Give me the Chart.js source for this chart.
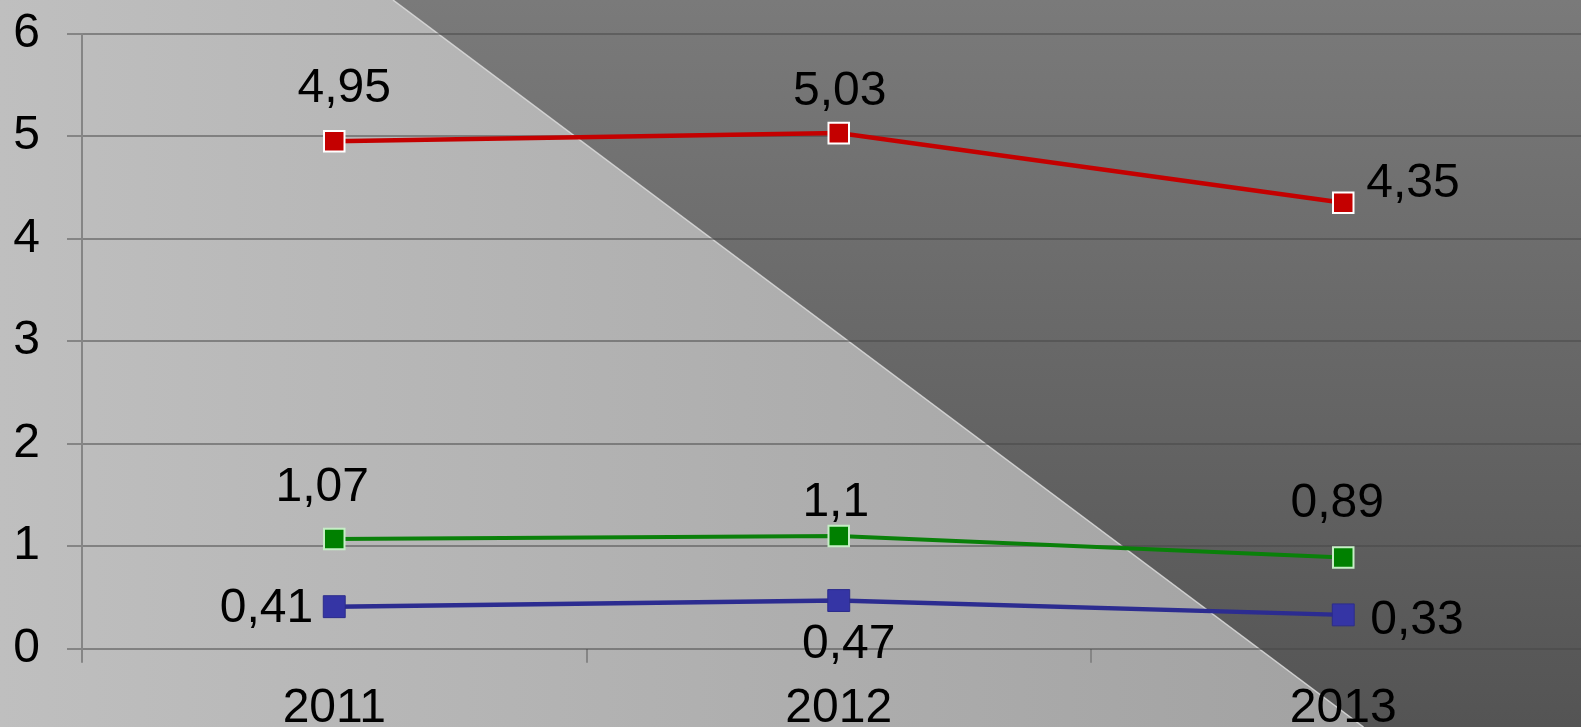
<!DOCTYPE html>
<html>
<head>
<meta charset="utf-8">
<style>
  html, body { margin: 0; padding: 0; overflow: hidden; background: #777; }
  #wrap { width: 1612px; height: 727px; }
  #c { width: 1612px; height: 727px; display: block; }
</style>
<script src="https://cdn.jsdelivr.net/npm/chart.js@4/dist/chart.umd.min.js"></script>
</head>
<body>
<div id="wrap"><canvas id="c" width="1612" height="727"></canvas></div>
<script>
// Years on the category axis
const years = ['2011', '2012', '2013'];

// Series values
const redSeries = [4.95, 5.03, 4.35];
const greenSeries = [1.07, 1.1, 0.89];
const blueSeries = [0.41, 0.47, 0.33];

// Value axis ticks
const yTicks = [0, 1, 2, 3, 4, 5, 6];

const FONT = '"Liberation Sans", Arial, sans-serif';
const FONT_SIZE = 48;

// Two-tone backdrop split by a diagonal
const backdrop = {
  id: 'backdrop',
  beforeDraw(chart) {
    const { ctx, width, height } = chart;
    ctx.save();
    const light = ctx.createLinearGradient(0, 0, 1300, 0);
    light.addColorStop(0, '#bfbfbf');
    light.addColorStop(1, '#a3a3a3');
    ctx.fillStyle = light;
    ctx.fillRect(0, 0, width, height);

    const x0 = 393, x1 = 393 + height * 1.335;
    const dark = ctx.createLinearGradient(0, 0, 0, height);
    dark.addColorStop(0, '#7a7a7a');
    dark.addColorStop(1, '#545454');
    ctx.fillStyle = dark;
    ctx.beginPath();
    ctx.moveTo(x0, 0);
    ctx.lineTo(width, 0);
    ctx.lineTo(width, height);
    ctx.lineTo(x1, height);
    ctx.closePath();
    ctx.fill();

    ctx.strokeStyle = 'rgba(225,225,225,0.8)';
    ctx.lineWidth = 1.5;
    ctx.beginPath();
    ctx.moveTo(x0, 0);
    ctx.lineTo(x1, height);
    ctx.stroke();
    ctx.restore();
  }
};

// Value labels next to each point, formatted with a decimal comma
const valueLabels = {
  id: 'valueLabels',
  afterDatasetsDraw(chart) {
    const { ctx } = chart;
    ctx.save();
    ctx.font = FONT_SIZE + 'px ' + FONT;
    ctx.fillStyle = '#000';
    chart.data.datasets.forEach((ds, i) => {
      const meta = chart.getDatasetMeta(i);
      meta.data.forEach((pt, j) => {
        const text = String(ds.data[j]).replace('.', ',');
        const w = ctx.measureText(text).width;
        const spot = ds.labelSpots[j];
        let cx = pt.x + spot[1], cy = pt.y + spot[2];
        if (spot[0] === 'left') cx = pt.x + spot[1] - w / 2;
        if (spot[0] === 'right') cx = pt.x + spot[1] + w / 2;
        ctx.textAlign = 'center';
        ctx.textBaseline = 'alphabetic';
        ctx.fillText(text, cx, cy + FONT_SIZE * 0.358);
      });
    });
    ctx.restore();
  }
};

new Chart(document.getElementById('c'), {
  type: 'line',
  data: {
    labels: years,
    datasets: [
      {
        data: redSeries,
        borderColor: '#c40000',
        borderWidth: 4.5,
        pointStyle: 'rect',
        pointRadius: 14.5,
        pointBackgroundColor: '#c40000',
        pointBorderColor: '#ffffff',
        pointBorderWidth: 2,
        labelSpots: [['center', 10, -57], ['center', 1, -45], ['right', 23, -23]]
      },
      {
        data: greenSeries,
        borderColor: '#0a800a',
        borderWidth: 4,
        pointStyle: 'rect',
        pointRadius: 14.5,
        pointBackgroundColor: '#008000',
        pointBorderColor: '#c6eec6',
        pointBorderWidth: 2,
        labelSpots: [['center', -12, -55], ['center', -3, -37], ['center', -6, -58]]
      },
      {
        data: blueSeries,
        borderColor: '#2c2c90',
        borderWidth: 4.5,
        pointStyle: 'rect',
        pointRadius: 15.5,
        pointBackgroundColor: '#3535a5',
        pointBorderColor: '#2c2c8c',
        pointBorderWidth: 1,
        labelSpots: [['left', -21, -2], ['center', 10, 40], ['right', 27, 2]]
      }
    ]
  },
  options: {
    responsive: false,
    animation: false,
    events: [],
    layout: { padding: { top: 33.7, right: 0, left: 0, bottom: 0 } },
    elements: { line: { tension: 0 } },
    plugins: {
      legend: { display: false },
      title: { display: false },
      tooltip: { enabled: false }
    },
    scales: {
      x: {
        type: 'category',
        offset: true,
        afterFit(scale) {
          scale.height = 78.3;
          scale.paddingLeft = 0;
          scale.paddingRight = 0;
        },
        grid: {
          offset: true,
          drawOnChartArea: false,
          drawTicks: true,
          tickLength: 14,
          color: '#858585',
          lineWidth: 2
        },
        border: { display: false },
        ticks: {
          color: '#000',
          font: { family: FONT, size: FONT_SIZE },
          padding: 17,
          maxRotation: 0
        }
      },
      y: {
        min: 0,
        max: 6,
        afterFit(scale) {
          scale.width = 82;
          scale.paddingTop = 0;
          scale.paddingBottom = 0;
        },
        afterBuildTicks(scale) { scale.ticks = yTicks.map(v => ({ value: v })); },
        grid: {
          color: 'rgba(70,70,70,0.5)',
          lineWidth: 2,
          tickLength: 15,
          tickColor: '#858585'
        },
        border: { display: true, color: '#858585', width: 2 },
        ticks: {
          color: '#000',
          font: { family: FONT, size: FONT_SIZE },
          padding: 27
        }
      }
    }
  },
  plugins: [backdrop, valueLabels]
});
</script>
</body>
</html>
